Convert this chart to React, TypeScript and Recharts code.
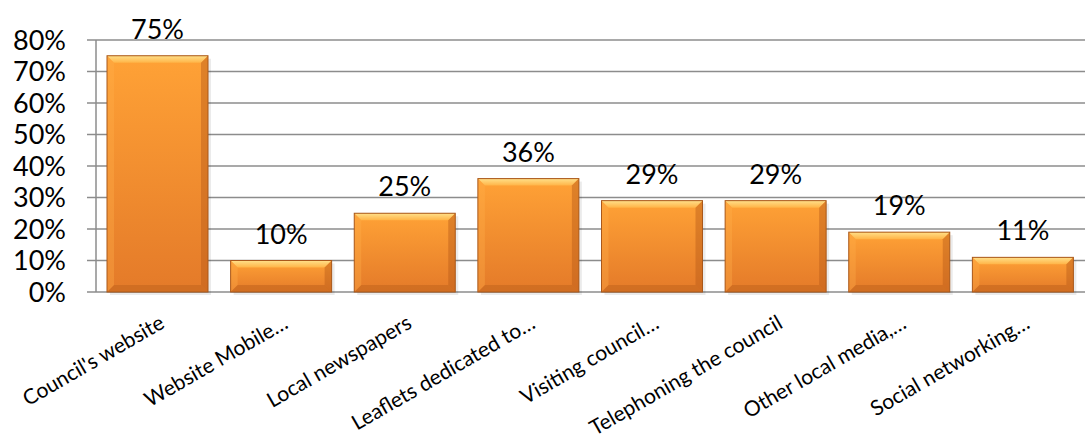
import { Bar, BarChart, CartesianGrid, LabelList, XAxis, YAxis } from "recharts";

const categories = [
  "Council's website",
  "Website Mobile…",
  "Local newspapers",
  "Leaflets dedicated to…",
  "Visiting council…",
  "Telephoning the council",
  "Other local media,…",
  "Social networking…",
];
const shares = [75, 10, 25, 36, 29, 29, 19, 11];
const yTicks = [0, 10, 20, 30, 40, 50, 60, 70, 80];
const edgeTicks = [0, 1, 2, 3, 4, 5, 6, 7, 8];

const data = categories.map((name, i) => ({ name, share: shares[i] }));

const FONT = "Lato, 'Open Sans', sans-serif";
const GRID = "#8c8c8c";

function BevelBar(props: any) {
  const { x, y, width, height } = props;
  if (!height || height <= 0) return null;
  const b = Math.min(7, height / 3);
  return (
    <g>
      <rect x={x + 3} y={y + 3} width={width} height={height} fill="#000" opacity={0.08} />
      <rect x={x} y={y} width={width} height={height} fill="url(#barBody)" />
      <polygon
        points={`${x},${y} ${x + width},${y} ${x + width - b},${y + b} ${x + b},${y + b}`}
        fill="url(#barTop)"
      />
      <polygon
        points={`${x},${y + height} ${x + width},${y + height} ${x + width - b},${y + height - b} ${x + b},${y + height - b}`}
        fill="#c9691f"
        opacity={0.7}
      />
      <polygon
        points={`${x},${y} ${x + b},${y + b} ${x + b},${y + height - b} ${x},${y + height}`}
        fill="#ffb04a"
        opacity={0.35}
      />
      <polygon
        points={`${x + width},${y} ${x + width - b},${y + b} ${x + width - b},${y + height - b} ${x + width},${y + height}`}
        fill="#b85c18"
        opacity={0.45}
      />
      <rect x={x} y={y} width={width} height={height} fill="none" stroke="#a9581b" strokeWidth={1} />
    </g>
  );
}

function CategoryTick(props: any) {
  const { x, y, payload } = props;
  const ax = x + 8;
  const ay = y + 27;
  return (
    <text
      x={ax}
      y={ay}
      transform={`rotate(-30, ${ax}, ${ay})`}
      textAnchor="end"
      fontFamily={FONT}
      fontSize={21}
      fill="#000"
    >
      {payload.value}
    </text>
  );
}

export default function App() {
  return (
    <div style={{ position: "absolute", left: 0, top: 0, background: "#fff" }}>
      <BarChart
        width={1085}
        height={441}
        data={data}
        margin={{ top: 40, right: 0, left: 0, bottom: 0 }}
        barSize={101}
      >
        <defs>
          <linearGradient id="barBody" x1="0" y1="0" x2="0" y2="1">
            <stop offset="0%" stopColor="#ffa236" />
            <stop offset="100%" stopColor="#e47a29" />
          </linearGradient>
          <linearGradient id="barTop" x1="0" y1="0" x2="0" y2="1">
            <stop offset="0%" stopColor="#ffe08a" />
            <stop offset="100%" stopColor="#ffb447" />
          </linearGradient>
        </defs>
        <CartesianGrid vertical={false} stroke={GRID} strokeWidth={1.5} />
        <XAxis
          xAxisId="edges"
          type="number"
          domain={[0, 8]}
          ticks={edgeTicks}
          height={0}
          tick={false}
          tickSize={8}
          tickLine={{ stroke: GRID, strokeWidth: 1.5 }}
          axisLine={{ stroke: GRID, strokeWidth: 1.5 }}
          allowDataOverflow
        />
        <XAxis
          dataKey="name"
          height={149}
          interval={0}
          tickLine={false}
          axisLine={false}
          tick={<CategoryTick />}
        />
        <YAxis
          width={96}
          domain={[0, 80]}
          ticks={yTicks}
          interval={0}
          tickFormatter={(v: number) => `${v}%`}
          tickSize={9}
          tickMargin={21}
          tickLine={{ stroke: GRID, strokeWidth: 1.5 }}
          axisLine={{ stroke: GRID, strokeWidth: 1.5 }}
          tick={{ fill: "#000", fontSize: 27, fontFamily: FONT }}
        />
        <Bar dataKey="share" shape={<BevelBar />} isAnimationActive={false}>
          <LabelList
            dataKey="share"
            position="top"
            offset={17}
            formatter={(v: any) => `${v}%`}
            style={{ fill: "#000", fontSize: 27, fontFamily: FONT }}
          />
        </Bar>
      </BarChart>
    </div>
  );
}
